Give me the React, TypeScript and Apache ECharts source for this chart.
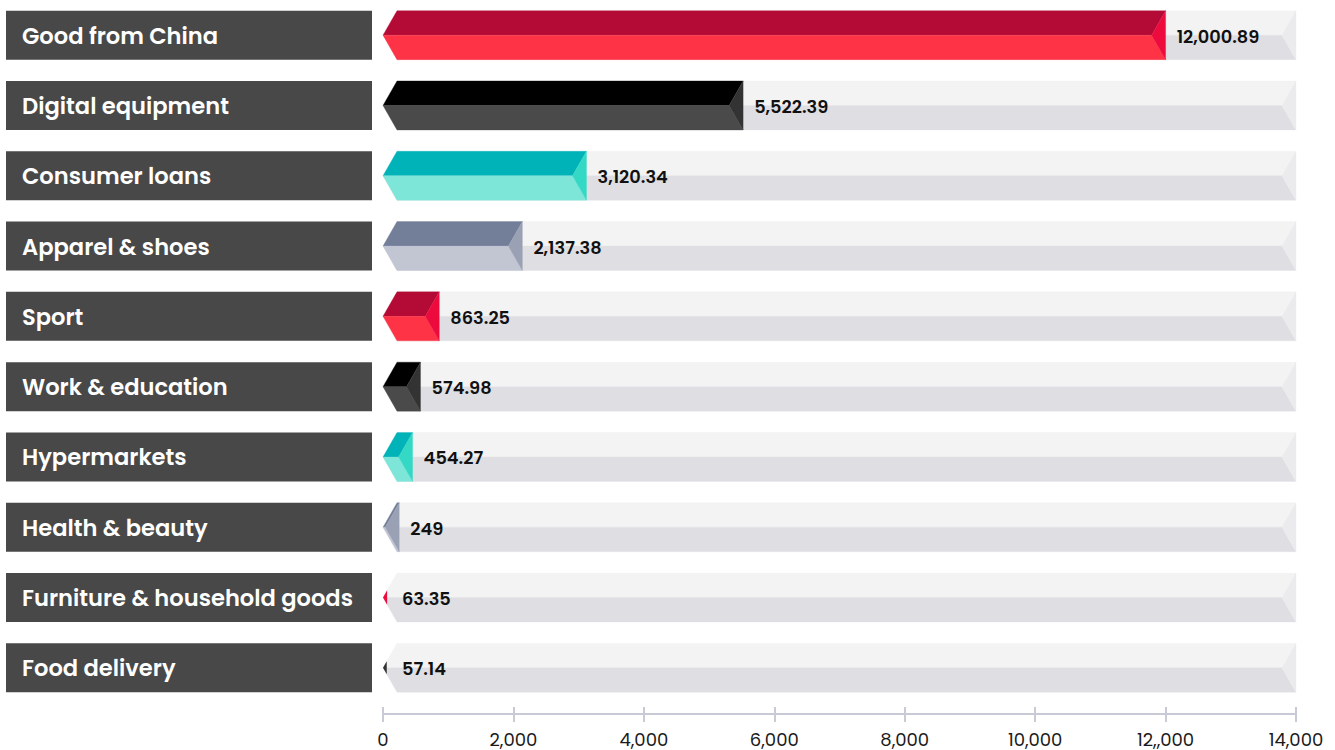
import React, { useEffect, useRef } from "react";
import * as echarts from "echarts";

const categories = [
  "Good from China",
  "Digital equipment",
  "Consumer loans",
  "Apparel & shoes",
  "Sport",
  "Work & education",
  "Hypermarkets",
  "Health & beauty",
  "Furniture & household goods",
  "Food delivery",
];

const values = [12000.89, 5522.39, 3120.34, 2137.38, 863.25, 574.98, 454.27, 249, 63.35, 57.14];

const axisMax = 14000;
const axisStep = 2000;
const tickLabels = ["0", "2,000", "4,000", "6,000", "8,000", "10,000", "12,,000", "14,000"];

// face colours: top, bottom, end
const palettes = [
  ["#b30a36", "#fe3446", "#ed0a3c"],
  ["#000000", "#4a4a4a", "#333333"],
  ["#00b3b8", "#7de6d9", "#33d9c5"],
  ["#737f99", "#c2c6d3", "#9aa1b5"],
];
const trackColors = ["#f3f3f3", "#dfdfe3", "#ebebed"];

const FONT = "Poppins, Inter, 'Open Sans', sans-serif";
const DEPTH = 14;
const BAR_RATIO = 0.697;

function prism(x0: number, x1: number, yc: number, hh: number, cols: string[]) {
  const top = yc - hh;
  const bot = yc + hh;
  const w = x1 - x0;
  const d = DEPTH;
  const out: any[] = [];
  if (w <= 0) return out;
  if (w < d) {
    const k = (hh * w) / d;
    out.push({
      type: "polygon",
      shape: { points: [[x0, yc], [x1, yc - k], [x1, yc + k]] },
      style: { fill: cols[2] },
    });
    return out;
  }
  out.push({
    type: "polygon",
    shape: { points: [[x0, yc], [x0 + d, top], [x1, top], [x1 - d, yc]] },
    style: { fill: cols[0], stroke: cols[0], lineWidth: 0.3 },
  });
  out.push({
    type: "polygon",
    shape: { points: [[x0, yc], [x1 - d, yc], [x1, bot], [x0 + d, bot]] },
    style: { fill: cols[1], stroke: cols[1], lineWidth: 0.3 },
  });
  out.push({
    type: "polygon",
    shape: { points: [[x1, top], [x1 - d, yc], [x1, bot]] },
    style: { fill: cols[2], stroke: cols[2], lineWidth: 0.3 },
  });
  return out;
}

function fmt(v: number) {
  return v.toLocaleString("en-US", { maximumFractionDigits: 2 });
}

export default function App() {
  const ref = useRef<HTMLDivElement>(null);
  useEffect(() => {
    if (!ref.current) return;
    const chart = echarts.init(ref.current, undefined, { renderer: "svg" });

    const trackData = categories.map((_, i) => [axisMax, i]);
    const barData = values.map((v, i) => [v, i]);
    const labelData = categories.map((_, i) => [0, i]);

    const option: any = {
      animation: false,
      backgroundColor: "#ffffff",
      grid: { left: 383, right: 39, top: 0, bottom: 47, containLabel: false },
      xAxis: [
        {
          type: "value",
          min: 0,
          max: axisMax,
          interval: axisStep,
          position: "bottom",
          offset: 11,
          splitLine: { show: false },
          axisLine: { show: true, lineStyle: { color: "#c8cad6", width: 2 } },
          axisTick: { show: true, inside: false, length: 8, lineStyle: { color: "#c8cad6", width: 2 } },
          axisLabel: {
            color: "#1a1a1a",
            fontSize: 18,
            fontFamily: FONT,
            margin: 16,
            formatter: (v: number) => tickLabels[Math.round(v / axisStep)] ?? String(v),
          },
        },
        {
          type: "value",
          min: 0,
          max: axisMax,
          interval: axisStep,
          position: "bottom",
          offset: 11,
          splitLine: { show: false },
          axisLine: { show: false },
          axisTick: { show: true, inside: true, length: 7, lineStyle: { color: "#c8cad6", width: 2 } },
          axisLabel: { show: false },
        },
      ],
      yAxis: {
        type: "category",
        data: categories,
        inverse: true,
        show: false,
      },
      series: [
        {
          type: "custom",
          name: "labels",
          xAxisIndex: 0,
          data: labelData,
          renderItem: (params: any, api: any) => {
            const i = api.value(1);
            const yc = api.coord([0, i])[1];
            const hh = (api.size([0, 1])[1] * BAR_RATIO) / 2;
            return {
              type: "group",
              children: [
                {
                  type: "rect",
                  shape: { x: 6, y: yc - hh, width: 366, height: hh * 2 },
                  style: { fill: "#484848" },
                },
                {
                  type: "text",
                  x: 22,
                  y: yc + 0.5,
                  style: {
                    text: categories[i],
                    fill: "#ffffff",
                    fontSize: 22.6,
                    fontWeight: 600,
                    fontFamily: FONT,
                    align: "left",
                    verticalAlign: "middle",
                  },
                },
              ],
            };
          },
        },
        {
          type: "custom",
          name: "track",
          xAxisIndex: 0,
          data: trackData,
          renderItem: (params: any, api: any) => {
            const v = api.value(0);
            const i = api.value(1);
            const [x0, yc] = api.coord([0, i]);
            const x1 = api.coord([v, i])[0];
            const hh = (api.size([0, 1])[1] * BAR_RATIO) / 2;
            return { type: "group", children: prism(x0, x1, yc, hh, trackColors) };
          },
        },
        {
          type: "custom",
          name: "bars",
          xAxisIndex: 0,
          data: barData,
          renderItem: (params: any, api: any) => {
            const v = api.value(0);
            const i = api.value(1);
            const [x0, yc] = api.coord([0, i]);
            const x1 = api.coord([v, i])[0];
            const hh = (api.size([0, 1])[1] * BAR_RATIO) / 2;
            const children = prism(x0, x1, yc, hh, palettes[i % palettes.length]);
            children.push({
              type: "text",
              x: Math.max(x1 + 11, x0 + 19),
              y: yc + 1,
              style: {
                text: fmt(values[i]),
                fill: "#111111",
                fontSize: 17.8,
                fontWeight: 600,
                fontFamily: FONT,
                align: "left",
                verticalAlign: "middle",
              },
            });
            return { type: "group", children };
          },
        },
      ],
    };
    chart.setOption(option);
    return () => chart.dispose();
  }, []);
  return (
    <div
      ref={ref}
      style={{ position: "absolute", left: 0, top: 0, width: 1335, height: 750 }}
    />
  );
}
